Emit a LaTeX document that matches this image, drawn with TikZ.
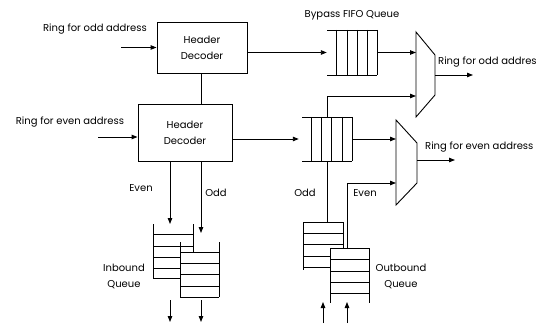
\documentclass[tikz,border=0pt]{standalone}
\usepackage{fontspec}
\setmainfont{Poppins}
\usetikzlibrary{arrows.meta}
\begin{document}
\begin{tikzpicture}[x=1pt,y=-1pt,
  every node/.style={font=\fontsize{10}{16}\selectfont, inner sep=0pt},
  line/.style={line width=0.9pt},
  arr/.style={line width=0.9pt,-{Triangle[length=6pt,width=4.5pt]}},
  decoder/.style={draw,line width=0.9pt,align=center},
  lbl/.style={align=center}]
\useasboundingbox (0,0) rectangle (551,326);
% header decoders
\node[decoder,minimum width=90pt,minimum height=51pt] (hd1) at (202,47.5) {Header\\Decoder};
\node[decoder,minimum width=94pt,minimum height=57pt] (hd2) at (185,132.5) {Header\\Decoder};
% FIFOs (frames only, lines drawn below)
\node[minimum width=50pt,minimum height=45pt] (fifo1) at (352,52.5) {};
\node[minimum width=50pt,minimum height=44pt] (fifo2) at (327,139) {};
\draw[line] (327,30) -- (377,30) (327,75) -- (377,75);
\foreach \x in {336,347,357,367,377} \draw[line] (\x,30) -- (\x,75);
\draw[line] (302,117) -- (352,117) (302,161) -- (352,161);
\foreach \x in {311,321,331,342,352} \draw[line] (\x,117) -- (\x,161);
% muxes
\coordinate (m1a) at (416,32); \coordinate (m1b) at (435,55);
\coordinate (m1c) at (435,95); \coordinate (m1d) at (416,117);
\draw[line] (m1a) -- (m1b) -- (m1c) -- (m1d) -- cycle;
\coordinate (m2a) at (396,120); \coordinate (m2b) at (417,143);
\coordinate (m2c) at (417,183); \coordinate (m2d) at (396,205);
\draw[line] (m2a) -- (m2b) -- (m2c) -- (m2d) -- cycle;
\coordinate (m1out) at (435,75); \coordinate (m1end) at (473,75);
\coordinate (m2out) at (417,160); \coordinate (m2end) at (455,160);
% inbound queue
\draw[line] (153,224) -- (153,278) (193,224) -- (193,252);
\draw[line] (153,234) -- (193,234) (153,246) -- (193,246);
\foreach \y in {257,268,278} \draw[line] (153,\y) -- (180,\y);
\draw[line] (180,242) -- (180,297) (219,242) -- (219,297);
\foreach \y in {252,263,274,286,297} \draw[line] (180,\y) -- (219,\y);
\coordinate (iq1) at (170,224); \coordinate (iq2) at (201,233);
\coordinate (iqo1) at (170,300); \coordinate (iqo1e) at (170,322);
\coordinate (iqo2) at (201,300); \coordinate (iqo2e) at (201,322);
% outbound queue
\draw[line] (303,222) -- (303,270) (343,222) -- (343,248);
\draw[line] (303,222) -- (343,222) (303,233) -- (343,233) (303,244) -- (343,244);
\foreach \y in {256,267} \draw[line] (303,\y) -- (330,\y);
\draw[line] (330,248) -- (330,303) (369,248) -- (369,303);
\foreach \y in {248,259,271,282,293} \draw[line] (330,\y) -- (369,\y);
\coordinate (oq1) at (327,222); \coordinate (oq2) at (347,248);
\coordinate (oqi1) at (323,323); \coordinate (oqi1e) at (323,302);
\coordinate (oqi2) at (347,323); \coordinate (oqi2e) at (347,302);
% inputs
\coordinate (in1) at (121,47.5);
\coordinate (in2) at (98,137);
% connectors
\draw[arr] (in1) -- (in1 -| hd1.west);
\draw[arr] (in2) -- (in2 -| hd2.west);
\draw[line] (hd1.south -| 201,0) -- (hd2.north -| 201,0);
\draw[arr] (hd1.east |- fifo1.west) -- (fifo1.west);
\draw[arr] (fifo1.east) -- (fifo1.east -| m1a);
\draw[arr] (hd2.east |- fifo2.west) -- ([xshift=-3pt]fifo2.west);
\draw[arr] (fifo2.east) -- (fifo2.east -| m2a);
\draw[arr] (fifo2.north) -- (327,96) -- (m1a |- 0,96);
\draw[line] (fifo2.south) -- (oq1);
\draw[arr] (oq2) -- (347,183) -- (m2a |- 0,183);
\draw[arr] (m1out) -- (m1end);
\draw[arr] (m2out) -- (m2end);
\draw[arr] (hd2.south -| iq1) -- (iq1);
\draw[arr] (hd2.south -| iq2) -- (iq2);
\draw[arr] (iqo1) -- (iqo1e);
\draw[arr] (iqo2) -- (iqo2e);
\draw[arr] (oqi1) -- (oqi1e);
\draw[arr] (oqi2) -- (oqi2e);
% labels
\node[lbl] (t1) at (95,29) {Ring for odd address};
\node[lbl] (t2) at (70,122) {Ring for even address};
\node[lbl] (t3) at (352,15) {Bypass FIFO Queue};
\node[lbl,anchor=west] (t4) at (438,62) {Ring for odd addres};
\node[lbl,anchor=west] (t5) at (425,147) {Ring for even address};
\node[lbl] (t6) at (141,188) {Even};
\node[lbl] (t7) at (216,193) {Odd};
\node[lbl] (t8) at (305,193) {Odd};
\node[lbl] (t9) at (365,193) {Even};
\node[lbl] (t10) at (124,276) {Inbound\\Queue};
\node[lbl] (t11) at (401,276) {Outbound\\Queue};
\end{tikzpicture}
\end{document}
